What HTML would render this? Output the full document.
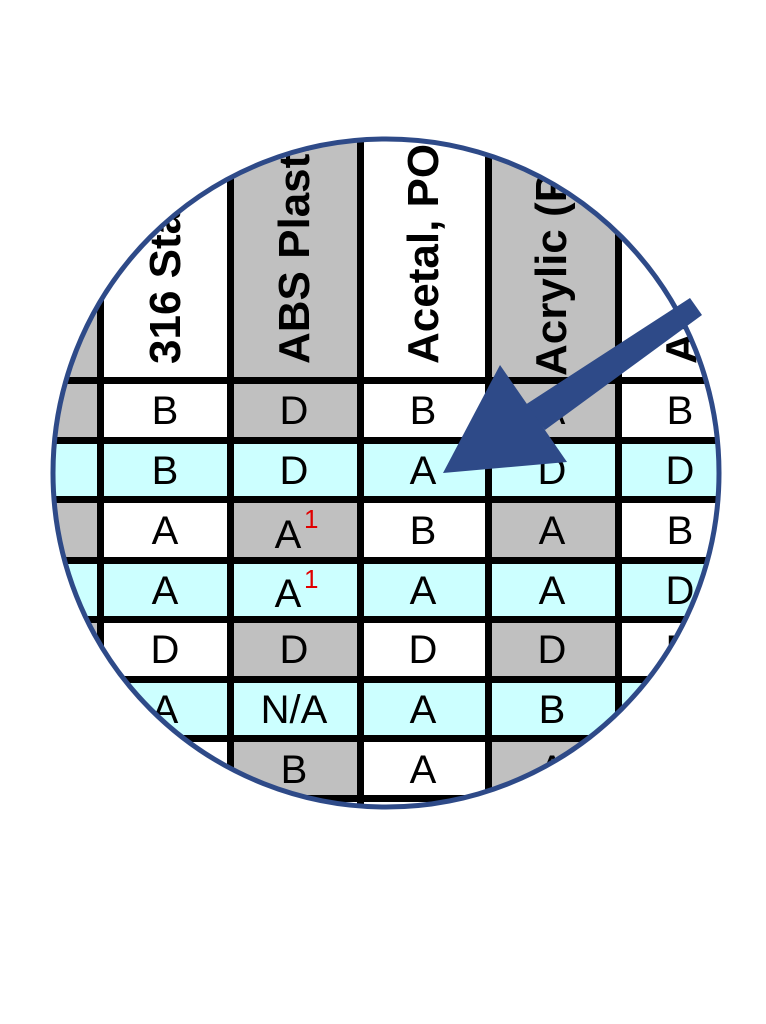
<!DOCTYPE html>
<html><head><meta charset="utf-8"><style>html,body{margin:0;padding:0;background:#fff;}svg{display:block}</style></head>
<body>
<svg width="766" height="1024" viewBox="0 0 766 1024" xmlns="http://www.w3.org/2000/svg" font-family="Liberation Sans, Arial, sans-serif">
<defs><clipPath id="c"><ellipse cx="386" cy="473" rx="333" ry="334"/></clipPath></defs>
<rect width="766" height="1024" fill="#fff"/>
<g clip-path="url(#c)">
  <rect x="0" y="100" width="100" height="280" fill="#c0c0c0"/>
  <rect x="230" y="100" width="130" height="280" fill="#c0c0c0"/>
  <rect x="488" y="100" width="130" height="280" fill="#c0c0c0"/>
  <g fill="#c0c0c0">
    <rect x="0" y="380" width="100" height="60"/><rect x="230" y="380" width="130" height="60"/><rect x="488" y="380" width="130" height="60"/>
    <rect x="0" y="499" width="100" height="61"/><rect x="230" y="499" width="130" height="61"/><rect x="488" y="499" width="130" height="61"/>
    <rect x="0" y="619" width="100" height="60"/><rect x="230" y="619" width="130" height="60"/><rect x="488" y="619" width="130" height="60"/>
    <rect x="0" y="738" width="100" height="60"/><rect x="230" y="738" width="130" height="60"/><rect x="488" y="738" width="130" height="60"/>
  </g>
  <g fill="#ccffff">
    <rect x="0" y="440" width="766" height="59"/>
    <rect x="0" y="560" width="766" height="59"/>
    <rect x="0" y="679" width="766" height="59"/>
  </g>
  <g fill="#000">
    <rect x="97" y="100" width="7" height="720"/>
    <rect x="227" y="100" width="7" height="720"/>
    <rect x="357" y="100" width="7" height="720"/>
    <rect x="485" y="100" width="7" height="720"/>
    <rect x="615" y="100" width="7" height="720"/>
    <rect x="0" y="377" width="766" height="7"/>
    <rect x="0" y="437" width="766" height="7"/>
    <rect x="0" y="496" width="766" height="7"/>
    <rect x="0" y="557" width="766" height="7"/>
    <rect x="0" y="616" width="766" height="7"/>
    <rect x="0" y="676" width="766" height="7"/>
    <rect x="0" y="735" width="766" height="7"/>
    <rect x="0" y="795" width="766" height="7"/>
  </g>
  <g font-weight="bold" font-size="44" fill="#000">
    <text transform="translate(180,364) rotate(-90)">316 Stainless</text>
    <text transform="translate(309,364) rotate(-90)">ABS Plastic</text>
    <text transform="translate(438,364) rotate(-90)">Acetal, POM</text>
    <text transform="translate(566,376) rotate(-90)">Acrylic (PMMA)</text>
    <text transform="translate(696,364) rotate(-90)">Aluminum</text>
  </g>
  <g font-size="40" fill="#000" text-anchor="middle">
    <text x="165" y="424">B</text><text x="294" y="424">D</text><text x="423" y="424">B</text><text x="552" y="424">A</text><text x="680" y="424">B</text>
    <text x="165" y="484">B</text><text x="294" y="484">D</text><text x="423" y="484">A</text><text x="552" y="484">D</text><text x="680" y="484">D</text>
    <text x="165" y="544">A</text><text x="288" y="548">A</text><text x="423" y="544">B</text><text x="552" y="544">A</text><text x="680" y="544">B</text>
    <text x="165" y="604">A</text><text x="288" y="607">A</text><text x="423" y="604">A</text><text x="552" y="604">A</text><text x="680" y="604">D</text>
    <text x="165" y="663">D</text><text x="294" y="663">D</text><text x="423" y="663">D</text><text x="552" y="663">D</text><text x="680" y="663">D</text>
    <text x="165" y="723">A</text><text x="294" y="723">N/A</text><text x="423" y="723">A</text><text x="552" y="723">B</text><text x="680" y="723">A</text>
    <text x="165" y="783">A</text><text x="294" y="783">B</text><text x="423" y="783">A</text><text x="552" y="783">A</text>
  </g>
  <g font-size="26" fill="#e00000">
    <text x="304" y="528">1</text>
    <text x="304" y="588">1</text>
  </g>
</g>
<ellipse cx="386" cy="473" rx="333" ry="334" fill="none" stroke="#2e4a88" stroke-width="5"/>
<polygon points="690,298 702,315 545,430 525,405" fill="#2e4a88"/>
<polygon points="443,473 500,365 567,462" fill="#2e4a88"/>
</svg>
</body></html>
